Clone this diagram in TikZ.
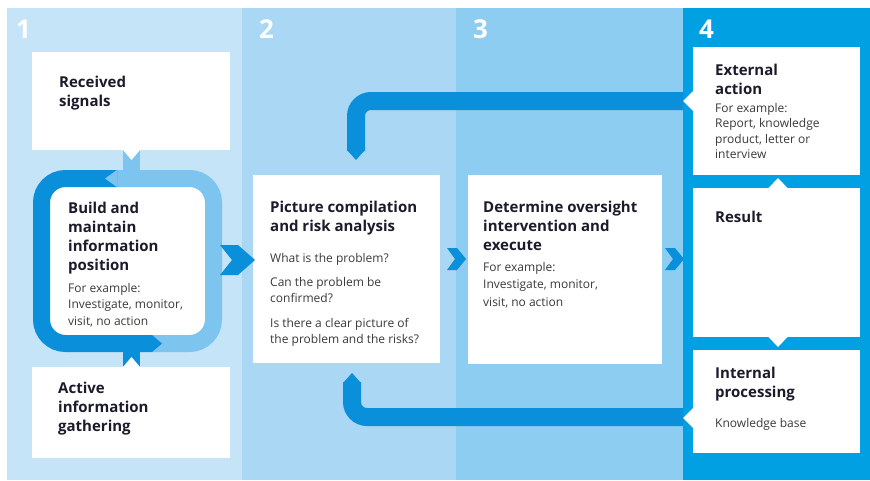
\documentclass[tikz,border=0pt]{standalone}
\usepackage{fontspec}
\setmainfont{Open Sans}
\definecolor{colA}{HTML}{C5E4F7}
\definecolor{colB}{HTML}{A9D7F4}
\definecolor{colC}{HTML}{8DCDF1}
\definecolor{colD}{HTML}{00A0E3}
\definecolor{darkb}{HTML}{0A8FDB}
\definecolor{lightb}{HTML}{7DC4EE}
\definecolor{headc}{HTML}{1B1B2B}
\definecolor{bodyc}{HTML}{3A3A3A}
\tikzset{
  wbox/.style={fill=white, draw=none, inner sep=0pt, outer sep=0pt, anchor=north west},
  head/.style={anchor=base west, align=left, inner sep=0pt, font=\fontsize{15}{19}\selectfont\bfseries, text=headc},
  body/.style={anchor=base west, align=left, inner sep=0pt, font=\fontsize{12}{16.5}\selectfont, text=bodyc},
  num/.style={anchor=base west, inner sep=0pt, font=\fontsize{26}{26}\selectfont\bfseries, text=white},
  band/.style={line width=18pt, draw=darkb, rounded corners=15pt},
  loopband/.style={line width=17pt, rounded corners=24pt},
  chev/.style={fill=darkb, draw=none},
}
\begin{document}
\begin{tikzpicture}[x=1pt,y=-1pt]
\useasboundingbox (0,0) rectangle (870,480);
% columns
\fill[colA] (7,8) rectangle (242,480);
\fill[colB] (242,8) rectangle (456,480);
\fill[colC] (456,8) rectangle (683,480);
\fill[colD] (683,8) rectangle (870,480);
\node[num] (n1) at (16,38) {1};
\node[num] (n2) at (259,38) {2};
\node[num] (n3) at (473,38) {3};
\node[num] (n4) at (699,38) {4};

% column 1
\node[wbox, minimum width=198, minimum height=98] (recv) at (32,52) {};
\node[wbox, minimum width=198, minimum height=91] (active) at (32,367) {};
\coordinate (rs) at (131.5,150);
\coordinate (as) at (131.5,367);
% stems
\fill[lightb] (123,150) rectangle (140,172);
\fill[darkb] (123,350) rectangle (140,367);
\fill[white] (123,150) -- (140,150) -- (rs |- 0,160) -- cycle;
\fill[white] (123,367) -- (140,367) -- (as |- 0,357) -- cycle;
% loop
\node[wbox, rounded corners=24pt, minimum width=172, minimum height=165] (build) at (41.5,178.5) {};
\coordinate (jt) at (117,178.5);
\coordinate (jb) at (152,343.5);
\draw[loopband, lightb] (jb) -- (build.south east) -- (build.north east) -- (jt);
\draw[loopband, darkb] (jt) -- (build.north west) -- (build.south west) -- (jb);
\fill[darkb] (152,335) -- (162,343.5) -- (152,352) -- cycle;
\fill[lightb] (117,170) -- (105,178.5) -- (117,187) -- cycle;

% (base anchors sit on the last line's baseline)
\node[head] (recvT) at (59,106) {Received\\signals};
\node[head] (buildT) at (68,270) {Build and\\maintain\\information\\position};
\node[body] (buildB) at (68,325) {For example:\\Investigate, monitor,\\visit, no action};
\node[head] (activeT) at (58,431) {Active\\information\\gathering};

% column 2 and 3
\node[wbox, minimum width=187, minimum height=188] (pic) at (253,175) {};
\node[wbox, minimum width=194, minimum height=189] (det) at (468,175) {};
\node[head] (picT) at (270,231) {Picture compilation\\and risk analysis};
\node[body] (picB1) at (270,262) {What is the problem?};
\node[body] (picB2) at (270,302.5) {Can the problem be\\confirmed?};
\node[body] (picB3) at (270,343.5) {Is there a clear picture of\\the problem and the risks?};
\node[head] (detT) at (483,250) {Determine oversight\\intervention and\\execute};
\node[body, font=\fontsize{12}{17.5}\selectfont] (detB) at (483,306) {For example:\\Investigate, monitor,\\visit, no action};

% chevrons
\fill[chev] (220,245) -- (238,245) -- (255,260) -- (238,275) -- (220,275) -- (232,260) -- cycle;
\fill[chev] (447,248) -- (457,248) -- (466,259) -- (457,270) -- (447,270) -- (455,259) -- cycle;
\fill[chev] (665,248) -- (675,248) -- (684,259) -- (675,270) -- (665,270) -- (673,259) -- cycle;

% column 4
\node[wbox, minimum width=167, minimum height=128] (ext) at (693,47) {};
\node[wbox, minimum width=167, minimum height=149] (res) at (693,188) {};
\node[wbox, minimum width=167, minimum height=103] (intl) at (693,350) {};
\fill[white] (693,91) -- (693,111) -- (683,101) -- cycle;
\fill[white] (693,408) -- (693,428) -- (683,418) -- cycle;
\fill[white] (768,188.5) -- (788,188.5) -- (778,178) -- cycle;
\fill[white] (768,336.5) -- (788,336.5) -- (778,347) -- cycle;
\node[head] (extT) at (715,94) {External\\action};
\node[body, font=\fontsize{12}{15.5}\selectfont] (extB) at (715,158.5) {For example:\\Report, knowledge\\product, letter or\\interview};
\node[head] (resT) at (715,222) {Result};
\node[head] (intlT) at (715,397) {Internal\\processing};
\node[body] (intlB) at (715,427) {Knowledge base};

% feedback connectors
\coordinate (extp) at (683,101);
\coordinate (intp) at (683,417);
\coordinate (picTop) at (356,151);
\coordinate (picBot) at (352,382);
\draw[band] (extp) -| (picTop);
\fill[darkb] (347,150) -- (365,150) -- (356,160) -- cycle;
\draw[band] (intp) -| (picBot);
\fill[darkb] (343,383) -- (361,383) -- (352,373) -- cycle;
\end{tikzpicture}
\end{document}
